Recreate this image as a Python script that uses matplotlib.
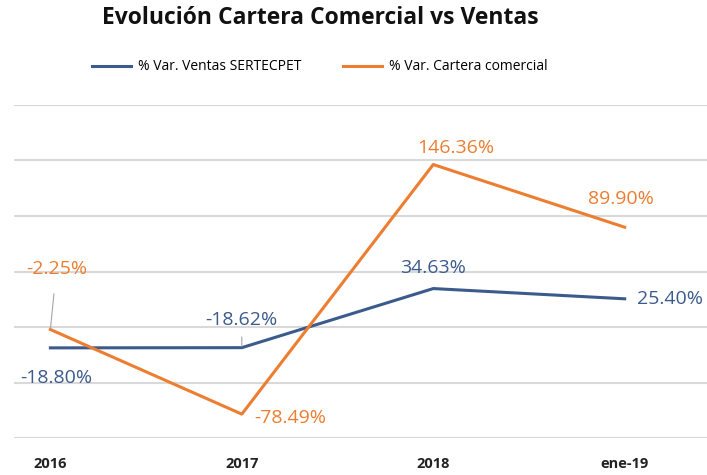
import matplotlib.pyplot as plt
from matplotlib import font_manager

periodos = ['2016', '2017', '2018', 'ene-19']
ventas = [-18.80, -18.62, 34.63, 25.40]
cartera = [-2.25, -78.49, 146.36, 89.90]

names = {f.name for f in font_manager.fontManager.ttflist}
fam = [n for n in ['Liberation Sans Narrow', 'Open Sans', 'DejaVu Sans'] if n in names]
plt.rcParams['font.family'] = fam

azul = '#3B5B8C'
naranja = '#ED7D31'

fig = plt.figure(figsize=(7.07, 4.75), dpi=100)
ax = fig.add_axes([14 / 707, 37 / 475, 693 / 707, 333 / 475])

x = list(range(len(periodos)))
ax.plot(x, ventas, color=azul, lw=2.2, label='% Var. Ventas SERTECPET')
ax.plot(x, cartera, color=naranja, lw=2.2, label='% Var. Cartera comercial')

ax.set_ylim(-100, 200)
ax.set_xlim(-0.19, 3.43)
ax.set_yticks([-100, -50, 0, 50, 100, 150, 200])
ax.yaxis.grid(True, color='#D9D9D9', lw=1.5)
ax.set_axisbelow(True)
for s in ax.spines.values():
    s.set_visible(False)
ax.tick_params(axis='y', left=False, labelleft=False)
ax.tick_params(axis='x', length=0, pad=14, labelsize=10.5, colors='#222222')
ax.set_xticks(x)
ax.set_xticklabels(periodos, fontweight='bold')

# etiquetas de datos (desplazamientos en pixeles)
off_v = [(6, -30), (0, 28), (0, 21), (45, 0)]
off_c = [(6, 60), (48, -4), (23, 17), (-4, 28)]
for i, v in enumerate(ventas):
    arrow = None
    if i == 1:
        arrow = dict(arrowstyle='-', color='#A6A6A6', lw=0.8, shrinkA=4, shrinkB=1)
    ax.annotate(f'{v:.2f}%', (x[i], v), xytext=off_v[i], textcoords='offset pixels',
                ha='center', va='center', fontsize=14, color=azul, arrowprops=arrow)
for i, v in enumerate(cartera):
    arrow = None
    if i == 0:
        arrow = dict(arrowstyle='-', color='#A6A6A6', lw=0.8, shrinkA=9, shrinkB=1)
    ax.annotate(f'{v:.2f}%', (x[i], v), xytext=off_c[i], textcoords='offset pixels',
                ha='center', va='center', fontsize=14, color=naranja, arrowprops=arrow)

fig.text(320 / 707, 1 - 18 / 475, 'Evolución Cartera Comercial vs Ventas',
         ha='center', va='center', fontsize=16.5, fontweight='bold', color='#111111')
fig.legend(loc='center', bbox_to_anchor=(320 / 707, 1 - 67 / 475), ncol=2, frameon=False,
           fontsize=10, handlelength=2.8, columnspacing=3, handletextpad=0.5)

fig.savefig('out.png', dpi=100)
